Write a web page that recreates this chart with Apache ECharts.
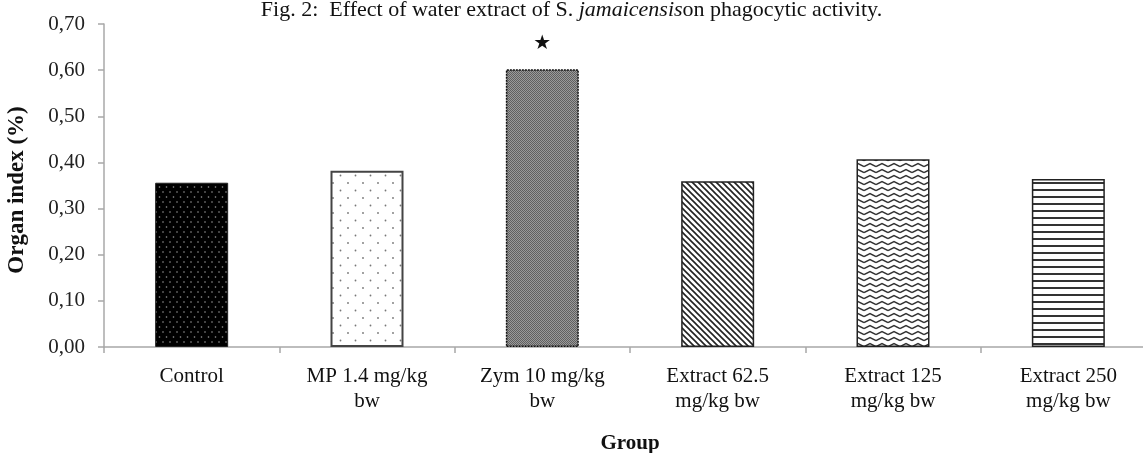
<!DOCTYPE html>
<html><head><meta charset="utf-8">
<script src="https://cdn.jsdelivr.net/npm/echarts@6/dist/echarts.min.js"></script>
<style>html,body{margin:0;padding:0;background:#fff}#c{width:1143px;height:453px}</style>
</head><body><div id="c"></div>
<script>
const categories = ['Control', 'MP 1.4 mg/kg\nbw', 'Zym 10 mg/kg\nbw', 'Extract 62.5\nmg/kg bw', 'Extract 125\nmg/kg bw', 'Extract 250\nmg/kg bw'];
const organIndex = [0.356, 0.382, 0.602, 0.359, 0.407, 0.364];
const significance = ['', '', '*', '', '', ''];
const yTicks = [0, 0.1, 0.2, 0.3, 0.4, 0.5, 0.6, 0.7];

function tile(w, h, draw) {
  const c = document.createElement('canvas');
  c.width = w; c.height = h;
  const g = c.getContext('2d');
  draw(g, w, h);
  return { image: c, repeat: 'repeat' };
}
function dot(g, x, y, r, col) { g.fillStyle = col; g.beginPath(); g.arc(x, y, r, 0, Math.PI * 2); g.fill(); }

const patterns = [
  tile(7, 10, (g, w, h) => { g.fillStyle = '#000'; g.fillRect(0, 0, w, h); dot(g, 2, 2, 0.8, '#9a9a9a'); dot(g, 5.5, 7, 0.8, '#9a9a9a'); }),
  tile(15, 15, (g, w, h) => { g.fillStyle = '#fff'; g.fillRect(0, 0, w, h); dot(g, 3, 3, 0.9, '#777'); dot(g, 10.5, 10.5, 0.9, '#777'); }),
  tile(2, 2, (g, w, h) => { g.fillStyle = '#9a9a9a'; g.fillRect(0, 0, 2, 2); g.fillStyle = '#606060'; g.fillRect(0, 0, 1, 1); g.fillRect(1, 1, 1, 1); }),
  tile(6, 6, (g, w, h) => { g.fillStyle = '#fff'; g.fillRect(0, 0, w, h); g.strokeStyle = '#222'; g.lineWidth = 1.6;
    g.beginPath(); g.moveTo(-1, -1); g.lineTo(7, 7); g.moveTo(-4, 2); g.lineTo(4, 10); g.moveTo(2, -4); g.lineTo(10, 4); g.stroke(); }),
  tile(12, 6, (g, w, h) => { g.fillStyle = '#fff'; g.fillRect(0, 0, w, h); g.strokeStyle = '#333'; g.lineWidth = 1.4;
    g.beginPath(); g.moveTo(0, 4.5); g.lineTo(6, 1.5); g.lineTo(12, 4.5); g.stroke(); }),
  tile(4, 7, (g, w, h) => { g.fillStyle = '#fff'; g.fillRect(0, 0, w, h); g.fillStyle = '#333'; g.fillRect(0, 0, w, 2); })
];
const borders = [
  { borderColor: '#222', borderWidth: 1 },
  { borderColor: '#444', borderWidth: 2 },
  { borderColor: '#111', borderWidth: 1.5, borderType: [2, 1] },
  { borderColor: '#222', borderWidth: 1.5 },
  { borderColor: '#222', borderWidth: 1.5 },
  { borderColor: '#222', borderWidth: 1.5 }
];

const serif = '"Liberation Serif", "DejaVu Serif", serif';
const barData = organIndex.map((v, i) => ({
  value: v,
  itemStyle: Object.assign({ color: patterns[i] }, borders[i]),
  label: significance[i] ? { show: true, position: 'top', distance: 15, formatter: '★', fontSize: 20, color: '#111', fontFamily: 'DejaVu Sans' } : { show: false }
}));

const chart = echarts.init(document.getElementById('c'), null, { renderer: 'canvas' });
chart.setOption({
  animation: false,
  backgroundColor: '#fff',
  title: {
    text: '{n|Fig. 2:  Effect of water extract of S. }{i|jamaicensis}{n|on phagocytic activity.}',
    left: 'center', top: -6,
    textStyle: { rich: {
      n: { fontFamily: serif, fontSize: 22, color: '#111', fontWeight: 'normal' },
      i: { fontFamily: serif, fontSize: 22, color: '#111', fontStyle: 'italic', fontWeight: 'normal' }
    } }
  },
  grid: { left: 104, top: 24, right: -13, bottom: 106, containLabel: false, outerBoundsMode: 'none' },
  xAxis: {
    type: 'category', data: categories,
    name: 'Group', nameLocation: 'middle', nameGap: 86,
    nameTextStyle: { fontFamily: serif, fontSize: 21, fontWeight: 'bold', color: '#111' },
    axisLine: { lineStyle: { color: '#a8a8a8', width: 1.5 } },
    axisTick: { show: true, length: 6, lineStyle: { color: '#a8a8a8', width: 1.5 } },
    axisLabel: { fontFamily: serif, fontSize: 21, color: '#111', margin: 17, lineHeight: 25, interval: 0 }
  },
  yAxis: {
    type: 'value', min: 0, max: 0.7, interval: 0.1,
    axisLine: { show: true, lineStyle: { color: '#a8a8a8', width: 1.5 } },
    axisTick: { show: true, length: 6, lineStyle: { color: '#a8a8a8', width: 1.5 } },
    splitLine: { show: false },
    axisLabel: { fontFamily: serif, fontSize: 21, color: '#222', margin: 19,
      formatter: v => { const t = yTicks.find(x => Math.abs(x - v) < 1e-6); return (t !== undefined ? t : v).toFixed(2).replace('.', ','); } }
  },
  graphic: [{
    type: 'text', x: 17, y: 190, rotation: Math.PI / 2,
    style: { text: 'Organ index (%)', font: 'bold 23px ' + serif, fill: '#111', textAlign: 'center', textVerticalAlign: 'middle' }
  }],
  series: [{ type: 'bar', data: barData, barWidth: 73 }]
});
</script></body></html>
